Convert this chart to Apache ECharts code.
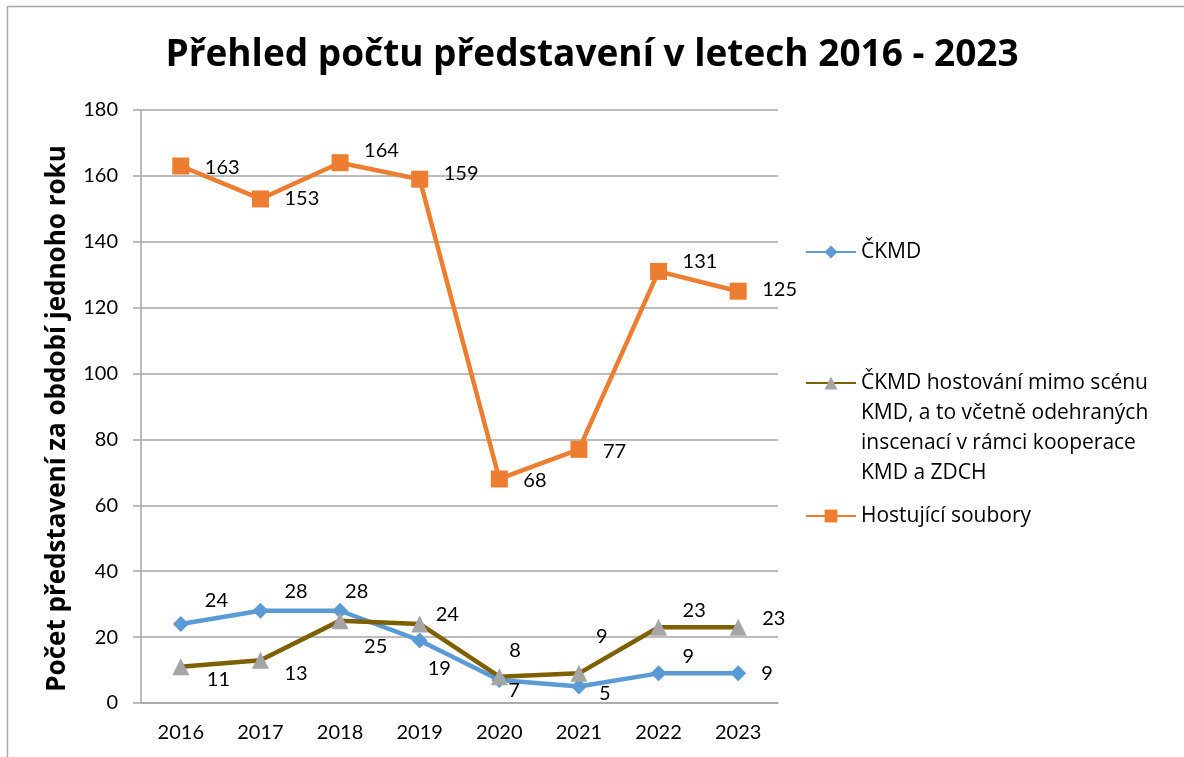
<!DOCTYPE html>
<html>
<head>
<meta charset="utf-8">
<script src="https://cdn.jsdelivr.net/npm/echarts@6/dist/echarts.min.js"></script>
<style>
    html, body { margin: 0; padding: 0; background: #fff; }
    #chart { width: 1184px; height: 757px; }
</style>
</head>
<body>
<div id="chart"></div>
<script>
    const years = ['2016', '2017', '2018', '2019', '2020', '2021', '2022', '2023'];
    const ckmd = [24, 28, 28, 19, 7, 5, 9, 9];
    const ckmdHost = [11, 13, 25, 24, 8, 9, 23, 23];
    const hostujici = [163, 153, 164, 159, 68, 77, 131, 125];

    const nameCkmd = 'ČKMD';
    const nameHost = 'ČKMD hostování mimo scénu KMD, a to včetně odehraných inscenací v rámci kooperace KMD a ZDCH';
    const nameHostujici = 'Hostující soubory';

    // where each data label sits: [gap from point to text's left edge, vertical shift]
    const nudgeCkmd = [[24, -23], [24, -19], [5, -19], [8, 28], [9, 11], [20, 7], [24, -17], [23, 0]];
    const nudgeHost = [[26, 13], [24, 13], [24, 26], [16, -9], [10, -26], [17, -37], [24, -17], [24, -9]];
    const nudgeHostujici = [[24, 2], [24, 0], [24, -12], [24, -6], [24, 2], [24, 2], [24, -10], [24, -2]];

    const numFont = 'Lato, "Open Sans", sans-serif';
    const textFont = '"Open Sans", Lato, sans-serif';

    function withLabels(values, nudges, size) {
        return values.map((v, i) => ({
            value: v,
            label: { offset: [nudges[i][0] - size / 2, nudges[i][1]] }
        }));
    }

    function lineSeries(name, values, nudges, color, symbol, size, symbolColor) {
        return {
            name: name,
            type: 'line',
            data: withLabels(values, nudges, size),
            symbol: symbol,
            symbolSize: size,
            lineStyle: { color: color, width: 4.5 },
            itemStyle: { color: symbolColor || color },
            label: {
                show: true,
                position: 'right',
                distance: 0,
                color: '#000',
                fontFamily: numFont,
                fontSize: 20
            },
            emphasis: { disabled: true },
            animation: false
        };
    }

    function legendBox(name, top) {
        return {
            data: [name],
            left: 805,
            top: top,
            padding: 0,
            orient: 'vertical',
            itemWidth: 50,
            itemHeight: 16,
            itemGap: 5,
            textStyle: { fontFamily: textFont, fontSize: 21, color: '#000', lineHeight: 30 },
            // the long entry starts level with its icon, so pad the block with empty lines above
            formatter: (n) => n === nameHost
                ? '\n\n\nČKMD hostování mimo scénu\nKMD, a to včetně odehraných\ninscenací v rámci kooperace\nKMD a ZDCH'
                : n
        };
    }

    const chart = echarts.init(document.getElementById('chart'));
    chart.setOption({
        backgroundColor: '#fff',
        title: {
            text: 'Přehled počtu představení v letech 2016 - 2023',
            left: 'center',
            top: 32,
            textStyle: { fontFamily: textFont, fontSize: 37, fontWeight: 'bold', color: '#000' }
        },
        graphic: [{
            type: 'rect',
            shape: { x: 7.5, y: 6.5, width: 1200, height: 800 },
            style: { fill: 'none', stroke: '#A6A6A6', lineWidth: 1.5 },
            silent: true
        }],
        legend: [
            legendBox(nameCkmd, 237),
            legendBox(nameHost, 278),
            legendBox(nameHostujici, 501)
        ],
        grid: { left: 141, right: 406, top: 110, bottom: 54, containLabel: false },
        xAxis: {
            type: 'category',
            data: years,
            boundaryGap: true,
            axisLine: { lineStyle: { color: '#A6A6A6', width: 1.5 } },
            axisTick: { length: 7, lineStyle: { color: '#A6A6A6', width: 1.5 } },
            axisLabel: { color: '#000', fontFamily: numFont, fontSize: 20, margin: 20 }
        },
        yAxis: {
            type: 'value',
            min: 0,
            max: 180,
            interval: 20,
            name: 'Počet představení za období jednoho roku',
            nameLocation: 'middle',
            nameGap: 70,
            nameTextStyle: {
                fontFamily: textFont, fontSize: 26, fontWeight: 'bold', color: '#000',
                padding: [0, 24, 0, 0]
            },
            axisLine: { show: true, lineStyle: { color: '#A6A6A6', width: 1.5 } },
            axisTick: { show: true, length: 8, lineStyle: { color: '#A6A6A6', width: 1.5 } },
            splitLine: { lineStyle: { color: '#A6A6A6', width: 1.5 } },
            axisLabel: { color: '#000', fontFamily: numFont, fontSize: 20, margin: 23 }
        },
        series: [
            lineSeries(nameCkmd, ckmd, nudgeCkmd, '#5B9BD5', 'diamond', 16),
            lineSeries(nameHost, ckmdHost, nudgeHost, '#7F6000', 'triangle', 17, '#A5A5A5'),
            lineSeries(nameHostujici, hostujici, nudgeHostujici, '#ED7D31', 'rect', 17)
        ]
    });
    window.addEventListener('resize', () => { chart.resize(); });
</script>
</body>
</html>
